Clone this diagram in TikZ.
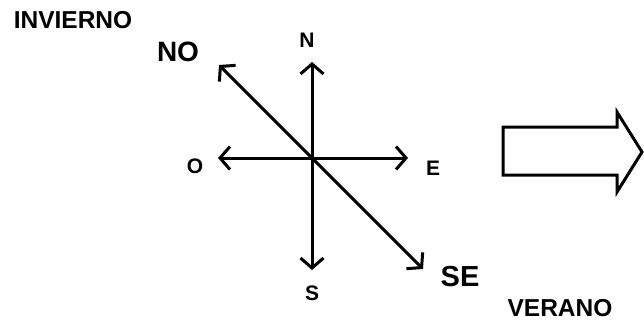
\documentclass[tikz,border=0pt]{standalone}
\usepackage{fontspec}
\setmainfont{Liberation Sans}
\usetikzlibrary{arrows.meta}
\tikzset{
  ray/.style={line width=3pt, -{Straight Barb[length=10pt,width=23pt]}},
  lbl/.style={font=\bfseries\fontsize{#1}{#1}\selectfont, inner sep=0pt},
}

\begin{document}
\begin{tikzpicture}[x=1pt, y=-1pt]
\useasboundingbox (0,0) rectangle (644,325);
\coordinate (c) at (312,158);
% compass ends
\coordinate (tN) at (312,62);
\coordinate (tS) at (312,270);
\coordinate (tE) at (408,158);
\coordinate (tO) at (218,158);
\coordinate (tNO) at (219,65);
\coordinate (tSE) at (423,269);
\draw[ray] (c) -- (tN);
\draw[ray] (c) -- (tS);
\draw[ray] (c) -- (tE);
\draw[ray] (c) -- (tO);
\draw[ray] (c) -- (tNO);
\draw[ray] (c) -- (tSE);
% labels
\node[lbl=21] (n) at (307,40) {N};
\node[lbl=21] (s) at (312,293) {S};
\node[lbl=21] (e) at (433,168) {E};
\node[lbl=21] (o) at (195,166) {O};
\node[lbl=28] (no) at (178,52) {NO};
\node[lbl=29] (se) at (460,277) {SE};
\node[lbl=24.5] (inv) at (73,20) {INVIERNO};
\node[lbl=24.5] (ver) at (560,308) {VERANO};
% block arrow
\draw[line width=3pt, line join=miter] (503,127) -- (617,127) -- (617,112) -- (642,152)
  -- (617,192) -- (617,175) -- (503,175) -- cycle;
\end{tikzpicture}
\end{document}
